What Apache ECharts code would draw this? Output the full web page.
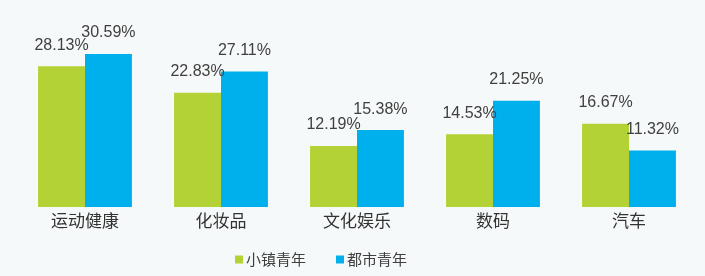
<!DOCTYPE html>
<html>
<head>
<meta charset="utf-8">
<script src="https://cdn.jsdelivr.net/npm/echarts@6/dist/echarts.min.js"></script>
<style>
html,body{margin:0;padding:0;background:#f6f9f9;}
#c{width:705px;height:276px;}
</style>
</head>
<body>
<div id="c"></div>
<script>
const categories = ['运动健康', '化妆品', '文化娱乐', '数码', '汽车'];
const townYouth = [28.13, 22.83, 12.19, 14.53, 16.67];
const cityYouth = [30.59, 27.11, 15.38, 21.25, 11.32];
const seriesNames = ['小镇青年', '都市青年'];

const chart = echarts.init(document.getElementById('c'), null, {renderer: 'canvas'});
const labelStyle = {
  show: true,
  position: 'top',
  distance: 13,
  fontSize: 16,
  fontFamily: 'Liberation Sans, Arial, sans-serif',
  color: '#404040',
  formatter: p => p.value.toFixed(2) + '%'
};
chart.setOption({
  backgroundColor: '#f6f9f9',
  animation: false,
  grid: {left: 17, right: 8, top: 32, bottom: 69},
  legend: {
    left: 230,
    top: 247,
    itemWidth: 8,
    itemHeight: 8,
    itemGap: 30,
    icon: 'rect',
    textStyle: {fontSize: 15, color: '#404040', fontFamily: 'Noto Sans CJK SC', padding: [0, 0, 0, -2]},
    data: seriesNames
  },
  xAxis: {
    type: 'category',
    data: categories,
    axisLine: {show: false},
    axisTick: {show: false},
    axisLabel: {fontSize: 17, color: '#333', margin: 5, fontFamily: 'Noto Sans CJK SC'}
  },
  yAxis: {
    type: 'value',
    min: 0,
    max: 35,
    show: false,
    splitLine: {show: false}
  },
  series: [
    {
      name: seriesNames[0],
      type: 'bar',
      data: townYouth,
      barGap: '0%',
      barCategoryGap: '31%',
      itemStyle: {color: '#b3d235'},
      label: labelStyle
    },
    {
      name: seriesNames[1],
      type: 'bar',
      data: cityYouth,
      itemStyle: {color: '#00b0ec'},
      label: labelStyle
    }
  ]
});
</script>
</body>
</html>
